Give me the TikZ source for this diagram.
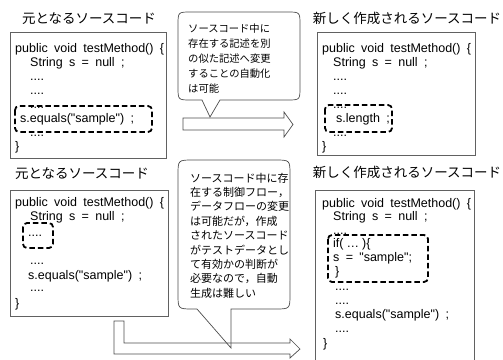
\documentclass[tikz,border=0pt]{standalone}
\usepackage{fontspec}
\newfontfamily\codefont{Liberation Sans}
\newfontfamily\jpfont{Noto Sans CJK JP}
\newcommand{\codesel}{\codefont\fontsize{12.5}{14}\selectfont\spaceskip 6.3pt\relax}
\begin{document}
\begin{tikzpicture}[x=1pt,y=-1pt,
  code/.style={font=\codesel, anchor=base west, inner sep=0pt},
  ttl/.style={font=\jpfont\fontsize{13.5}{16}\selectfont, anchor=base, inner sep=0pt},
  callt/.style={font=\jpfont\fontsize{10.3}{15}\selectfont, anchor=base west, inner sep=0pt},
  callb/.style={font=\jpfont\fontsize{11}{14}\selectfont, anchor=base west, inner sep=0pt},
  codebox/.style={draw=black!62, line width=0.9pt},
  dbox/.style={draw=black, line width=1.8pt, dash pattern=on 5.5pt off 3pt, rounded corners=4pt},
  bigarrow/.style={draw=black!70, line width=0.7pt},
  callout/.style={draw=black!70, line width=0.7pt}]
\useasboundingbox (0,0) rectangle (503,359);

% titles
\node[ttl] (t1) at (89,23) {元となるソースコード};
\node[ttl] (t2) at (407,23) {新しく作成されるソースコード};
\node[ttl] (t3) at (82,178) {元となるソースコード};
\node[ttl] (t4) at (407,177) {新しく作成されるソースコード};

% code boxes
\draw[codebox] (10,32) rectangle (166,158);
\draw[codebox] (317,32) rectangle (475,155);
\draw[codebox] (10,190) rectangle (168,316);
\draw[codebox] (315,190) rectangle (474,365);

% top-left code
\node[code] (a1) at (15,52) {public void testMethod() \{};
\node[code] (a2) at (30,66) {String s = null ;};
\node[code] (a3) at (30,80) {....};
\node[code] (a4) at (30,94) {....};
\node[code] (a5) at (30,108) {....};
\node[code] (a6) at (20,122) {s.equals("sample") ;};
\node[code] (a7) at (30,136) {....};
\node[code] (a8) at (15,150) {\}};
\draw[dbox] (15,106) rectangle (152,132);

% top-right code
\node[code] (b1) at (322,52) {public void testMethod() \{};
\node[code] (b2) at (333,66) {String s = null ;};
\node[code] (b3) at (333,80) {....};
\node[code] (b4) at (333,94) {....};
\node[code] (b5) at (333,108) {....};
\node[code] (b6) at (336,122) {s.length ;};
\node[code] (b7) at (333,136) {....};
\node[code] (b8) at (322,150) {\}};
\draw[dbox] (325,105) rectangle (392,132);

% bottom-left code
\node[code] (c1) at (15,206) {public void testMethod() \{};
\node[code] (c2) at (30,220) {String s = null ;};
\node[code] (c3) at (28,236) {....};
\node[code] (c4) at (30,264) {....};
\node[code] (c5) at (28,279) {s.equals("sample") ;};
\node[code] (c6) at (30,291) {....};
\node[code] (c7) at (15,307) {\}};
\draw[dbox] (23,223) rectangle (53,248);

% bottom-right code
\node[code] (d1) at (322,207) {public void testMethod() \{};
\node[code] (d2) at (333,220) {String s = null ;};
\node[code] (d3) at (333,234) {....};
\node[code] (d4) at (333,247) {if(\hspace{3pt}…\hspace{3pt})\{};
\node[code] (d5) at (333,261) {s = "sample";};
\node[code] (d6) at (335,275) {\}};
\node[code] (d7) at (335,290) {....};
\node[code] (d8) at (335,304) {....};
\node[code] (d9) at (335,318) {s.equals("sample") ;};
\node[code] (d10) at (335,332) {....};
\node[code] (d11) at (323,347) {\}};
\draw[dbox] (328,235) rectangle (428,282);

% arrows
\draw[bigarrow] (183,118) -- (284,118) -- (284,112) -- (293,124.5) -- (284,137) -- (284,130) -- (183,130) -- cycle;
\draw[bigarrow] (114,321) -- (124,321) -- (124,343) -- (290,343) -- (290,339) -- (300,349) -- (290,358) -- (290,354) -- (114,354) -- cycle;

% top callout
\draw[callout] (210,117) -- (220,100) -- (287,100) .. controls (300,100) .. (300,87) -- (300,25) .. controls (300,12) .. (287,12) -- (191,12) .. controls (178,12) .. (178,25) -- (178,87) .. controls (178,100) .. (191,100) -- (202,100) -- cycle;
\node[callt] (p1) at (188,32) {ソースコード中に};
\node[callt] (p2) at (188,47) {存在する記述を別};
\node[callt] (p3) at (188,62) {の似た記述へ変更};
\node[callt] (p4) at (188,77) {することの自動化};
\node[callt] (p5) at (188,92) {は可能};

% bottom callout
\draw[callout] (231,348) -- (231,309) -- (275,309) .. controls (290,309) .. (290,294) -- (290,175) .. controls (290,160) .. (275,160) -- (193,160) .. controls (178,160) .. (178,175) -- (178,294) .. controls (178,309) .. (193,309) -- (197,309) -- cycle;
\node[callb] (q1) at (190,182) {ソースコード中に存};
\node[callb] (q2) at (190,196.4) {在する制御フロー，};
\node[callb] (q3) at (190,210.8) {データフローの変更};
\node[callb] (q4) at (190,225.2) {は可能だが，作成};
\node[callb] (q5) at (190,239.6) {されたソースコード};
\node[callb] (q6) at (190,254) {がテストデータとし};
\node[callb] (q7) at (190,268.4) {て有効かの判断が};
\node[callb] (q8) at (190,282.8) {必要なので，自動};
\node[callb] (q9) at (190,297.2) {生成は難しい};
\end{tikzpicture}
\end{document}
